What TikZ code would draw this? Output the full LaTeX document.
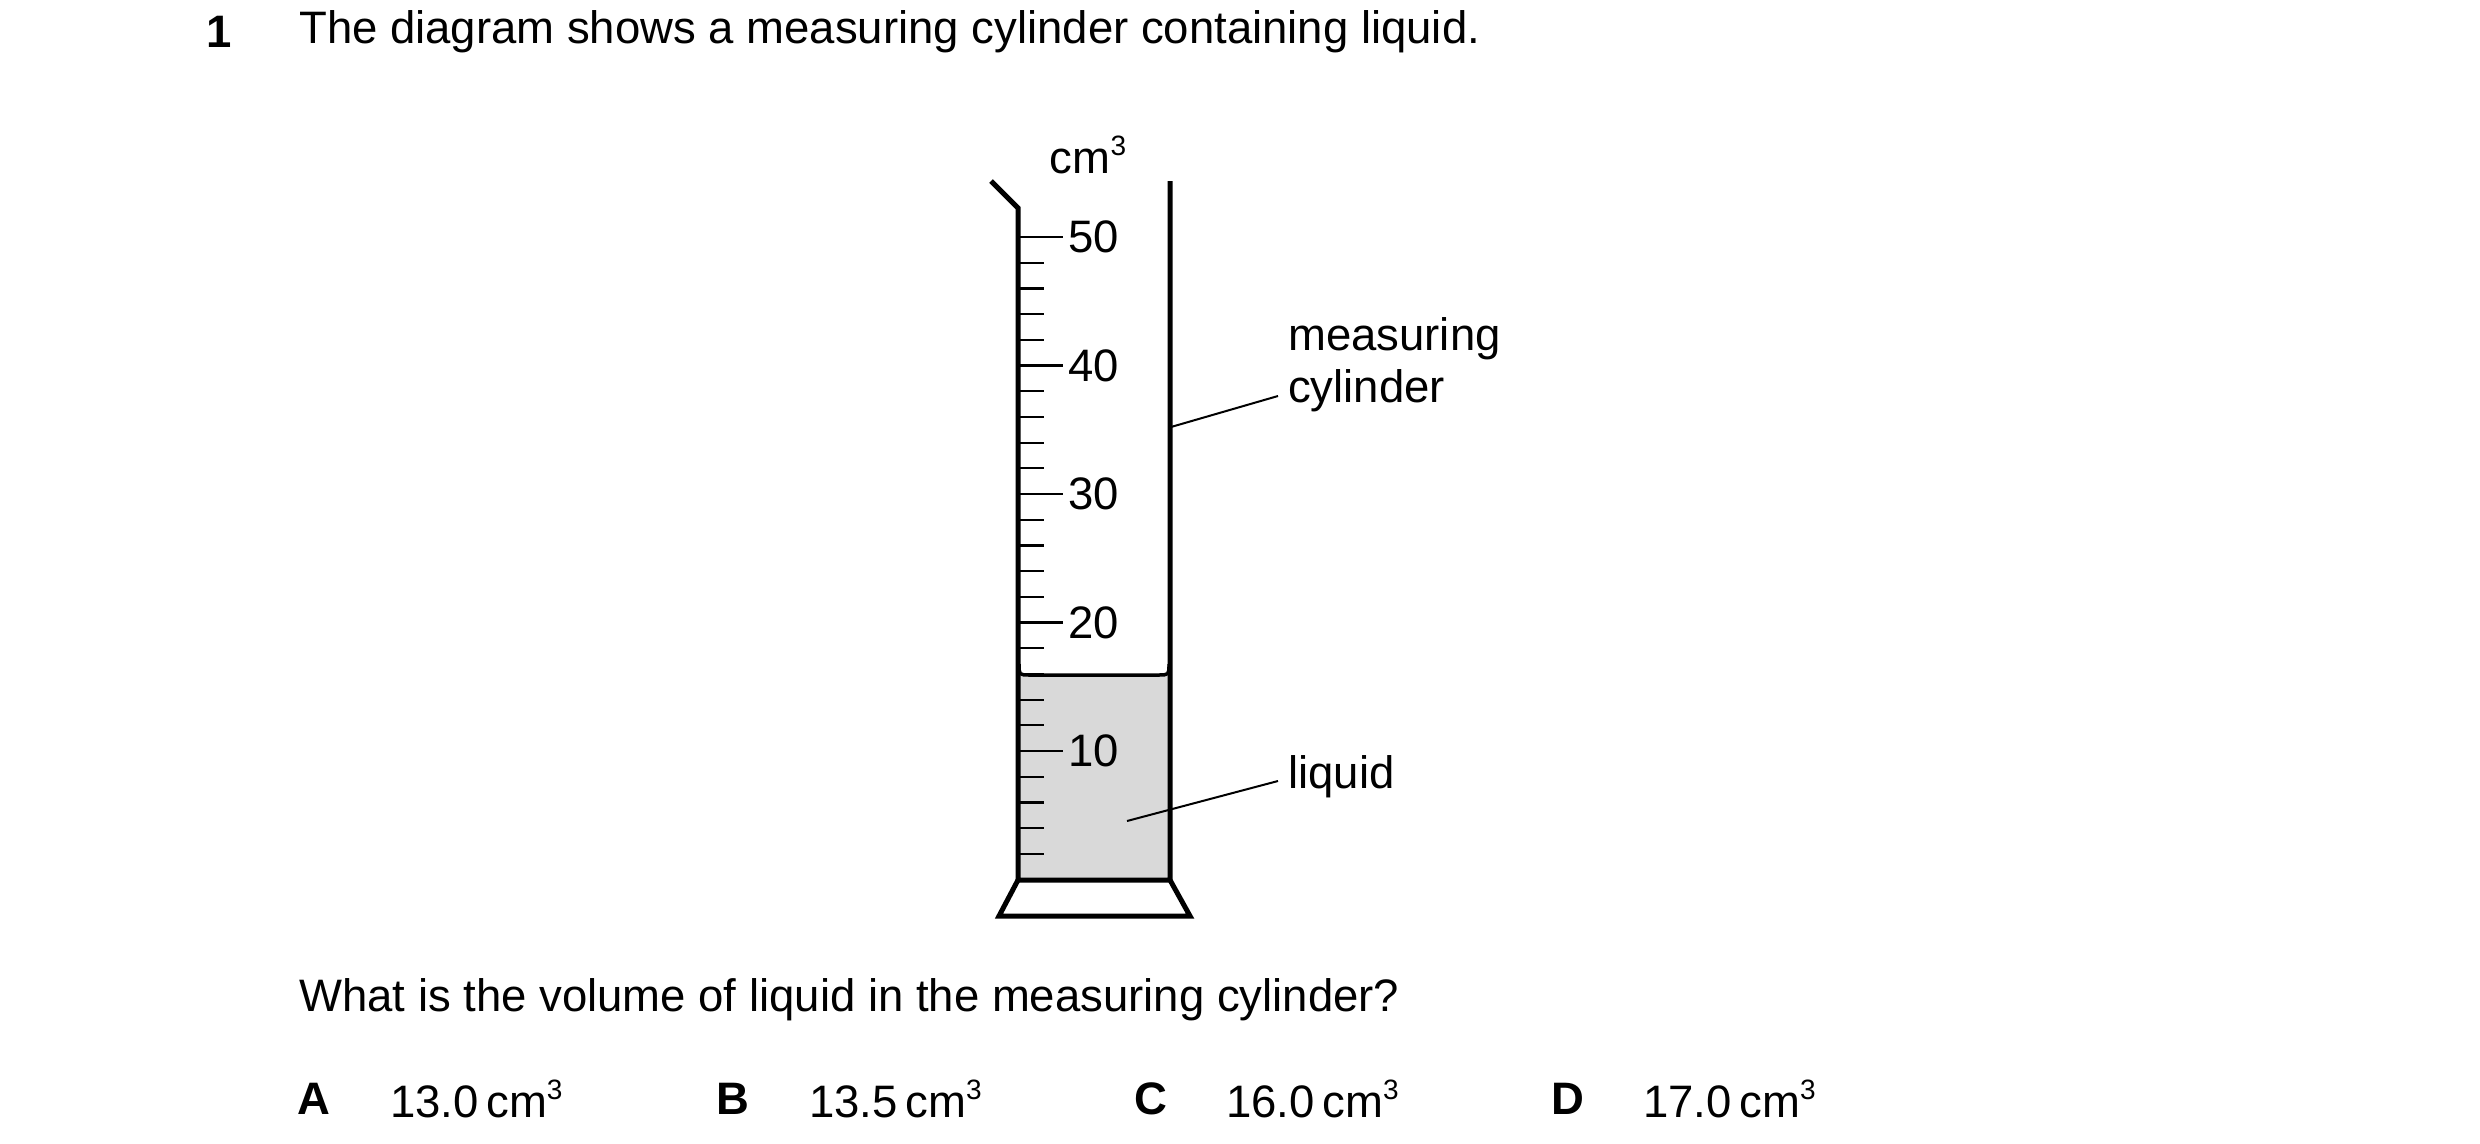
\documentclass[tikz,border=0pt]{standalone}
\usepackage{fontspec}
\setmainfont{Liberation Sans}
\newcommand{\cub}{\raisebox{0.75ex}{\fontsize{28}{30}\selectfont 3}}
\begin{document}
\begin{tikzpicture}[x=1pt,y=-1pt,
  wall/.style={line width=5pt,line join=miter},
  tick/.style={line width=2.2pt},
  lead/.style={line width=2pt},
  txt/.style={font=\fontsize{45.5}{54}\selectfont,inner sep=0pt},
  num/.style={font=\fontsize{45.5}{54}\selectfont,inner sep=0pt,anchor=west}]
\useasboundingbox (0,0) rectangle (2480,1143);
% liquid
\fill[gray!30] (1018,880) -- (1018,664) .. controls (1018,675) .. (1030,675) -- (1158,675) .. controls (1170,675) .. (1170,664) -- (1170,880) -- cycle;
\draw[line width=3.5pt] (1019,664) .. controls (1019,675) .. (1030,675) -- (1158,675) .. controls (1169,675) .. (1169,664);
% ticks
\foreach \i in {1,...,25}{
  \pgfmathsetmacro{\yy}{879.5-25.7*\i}
  \pgfmathtruncatemacro{\m}{mod(\i,5)}
  \ifnum\m=0 \draw[tick] (1018,\yy) -- (1063,\yy); \else \draw[tick] (1018,\yy) -- (1044,\yy); \fi
}
\foreach \v/\yy in {50/237,40/365.5,30/494,20/622.5,10/751}
  \node[num] (n\v) at (1068,\yy) {\v};
% cylinder
\draw[wall] (991,181) -- (1018,208) -- (1018,880) -- (1170,880) -- (1170,181);
\draw[wall] (1018,880) -- (999,916) -- (1190,916) -- (1170,880);
\node[txt] (unit) at (1088,155) {cm\cub};
% labels
\node[txt,anchor=west] (mc) at (1288,366) {\begin{tabular}{@{}l@{}}measuring\\[-2pt]cylinder\end{tabular}};
\coordinate (mcA) at (1171,427);
\draw[lead] (mcA) -- (1278,396);
\node[txt,anchor=west] (liq) at (1288,777) {liquid};
\coordinate (lqA) at (1127,821);
\draw[lead] (lqA) -- (1278,781);
% text
\node[txt,anchor=west] (q) at (206,32) {\textbf{1}};
\node[txt,anchor=west] (t) at (299,32) {The diagram shows a measuring cylinder containing liquid.};
\node[txt,anchor=west] (q2) at (299,1000) {What is the volume of liquid in the measuring cylinder?};
\foreach \L/\lx/\V/\vx in {A/297/13.0/390,B/716/13.5/809,C/1134/16.0/1226,D/1551/17.0/1643}{
  \node[txt,anchor=west] (l\L) at (\lx,1099) {\textbf{\L}};
  \node[txt,anchor=west] (v\L) at (\vx,1099) {\V\,cm\cub};
}
\end{tikzpicture}
\end{document}
